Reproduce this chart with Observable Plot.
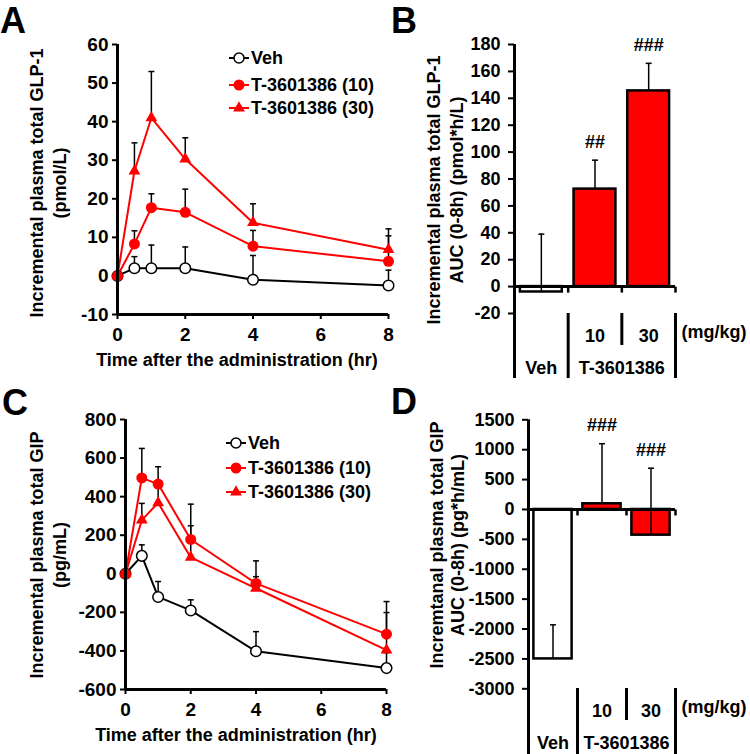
<!DOCTYPE html>
<html><head><meta charset="utf-8">
<script src="https://cdn.jsdelivr.net/npm/d3@7"></script>
<script src="https://cdn.jsdelivr.net/npm/@observablehq/plot@0.6"></script>
<style>
body{margin:0;background:#fff;}
#root{position:relative;width:750px;height:754px;overflow:hidden;background:#fff;font-family:"Liberation Sans",Arial,sans-serif;font-weight:bold;}
#root > svg{position:absolute;overflow:visible;}
</style></head><body><div id="root"></div>
<script>
// ---------- data ----------
const times = [0, 0.5, 1, 2, 4, 8];
const seriesNames = ["Veh", "T-3601386 (10)", "T-3601386 (30)"];
// Panel A: GLP-1 (pmol/L), mean and SD
const glpVeh = [0, 2, 2, 2, -1, -2.5];
const glpVehSD = [0, 3, 6, 5.5, 6.3, 4];
const glp10 = [0, 8.3, 17.7, 16.5, 7.7, 3.8];
const glp10SD = [0, 3.4, 3.6, 6, 4.1, 6.6];
const glp30 = [0, 27.2, 41, 30.3, 13.8, 6.8];
const glp30SD = [0, 7.3, 12, 5.5, 4.9, 5.4];
// Panel C: GIP (pg/mL)
const gipVeh = [0, 93, -120, -190, -402, -489];
const gipVehSD = [0, 57, 80, 55, 102, 80];
const gip10 = [0, 497, 465, 178, -50, -313];
const gip10SD = [0, 153, 90, 183, 117, 169];
const gip30 = [0, 278, 368, 85, -75, -396];
const gip30SD = [0, 87, 80, 164, 60, 195];
// Panels B / D: AUC bars
const barGroups = ["Veh", "10", "30"];
const glpAUC = [-4, 72.5, 145.5];
const glpAUCSD = [43, 21.5, 20.5];
const glpSig = ["", "##", "###"];
const gipAUC = [-2500, 95, -430];
const gipAUCSD = [570, 1005, 1120];
const gipSig = ["", "###", "###"];
// tick labels
const ticksA = [-10, 0, 10, 20, 30, 40, 50, 60];
const ticksB = [-20, 0, 20, 40, 60, 80, 100, 120, 140, 160, 180];
const ticksC = [-600, -400, -200, 0, 200, 400, 600, 800];
const ticksD = [-3000, -2500, -2000, -1500, -1000, -500, 0, 500, 1000, 1500];
const ticksTime = [0, 2, 4, 6, 8];
const tier1 = ["", "10", "30"];
const tier2 = [{x: 0, label: "Veh"}, {x: 1.5, label: "T-3601386"}];
const unitLabel = "(mg/kg)";
const xTitle = "Time after the administration (hr)";

const RED = "#ff0000";
const FONT = '"Liberation Sans", Arial, Helvetica, sans-serif';
const baseStyle = {fontSize: "18px", fontWeight: "bold", fontFamily: FONT, color: "black", background: "transparent", overflow: "visible"};
const plain = d => String(d);

const cap = {draw(ctx) { ctx.moveTo(-3, 0); ctx.lineTo(3, 0); }};
const tickDown = {draw(ctx) { ctx.moveTo(0, 0); ctx.lineTo(0, 6); }};

const rows = (m, s) => times.map((t, i) => ({t, y: m[i], sd: s[i], top: m[i] + s[i]}));

const root = document.getElementById("root");
function place(svg, left, top) {
  svg.style.left = left + "px"; svg.style.top = top + "px";
  root.appendChild(svg);
}

function timePlot(o) {
  const v = rows(o.veh, o.vehSD), a = rows(o.s10, o.s10SD), b = rows(o.s30, o.s30SD);
  const err = d => d.sd > 0;
  const errMarks = [v, a, b].flatMap(r => [
    Plot.ruleX(r.filter(err), {x: "t", y1: "y", y2: "top", stroke: "black", strokeWidth: 1.5}),
    Plot.dot(r.filter(err), {x: "t", y: "top", symbol: cap, fill: "none", stroke: "black", strokeWidth: 1.5})
  ]);
  return Plot.plot({
    width: o.w, height: o.h, marginLeft: o.ml, marginTop: o.mt, marginRight: o.mr, marginBottom: o.mb,
    x: {domain: [0, 8]}, y: {domain: o.yDomain},
    style: baseStyle,
    marks: [
      Plot.axisY({ticks: o.yTicks, tickFormat: plain, tickSize: 5, tickPadding: 4, strokeWidth: 2, fontSize: 19, fontWeight: "bold", label: null}),
      Plot.axisX({ticks: ticksTime, tickFormat: plain, tickSize: 5, tickPadding: 8, strokeWidth: 2, fontSize: 19, fontWeight: "bold", label: null}),
      ...errMarks,
      Plot.line(v, {x: "t", y: "y", stroke: "black", strokeWidth: 2}),
      Plot.line(a, {x: "t", y: "y", stroke: RED, strokeWidth: 2}),
      Plot.line(b, {x: "t", y: "y", stroke: RED, strokeWidth: 2}),
      Plot.dot(v, {x: "t", y: "y", r: 5.3, fill: "white", stroke: "black", strokeWidth: 1.5}),
      Plot.dot(a, {x: "t", y: "y", r: 5.5, fill: RED}),
      Plot.dot(b, {x: "t", y: "y", r: 4.4, symbol: "triangle", fill: RED}),
      Plot.ruleY([o.yDomain[0]], {strokeWidth: 3}),
      Plot.ruleX([0], {strokeWidth: 3})
    ]
  });
}

function barPlot(o) {
  const r = barGroups.map((g, i) => ({g, i, y: o.m[i], top: o.m[i] + o.s[i], sig: o.sig[i], fill: i === 0 ? "white" : RED}));
  return Plot.plot({
    width: o.w, height: o.h, marginLeft: o.ml, marginTop: o.mt, marginRight: o.mr, marginBottom: o.mb,
    x: {domain: [-0.5, 2.5], axis: null}, y: {domain: o.yDomain},
    color: {type: "identity"},
    style: baseStyle,
    marks: [
      Plot.axisY({ticks: o.yTicks, tickFormat: plain, tickSize: 6, tickPadding: 8, strokeWidth: 2, fontWeight: "bold", label: null}),
      Plot.rectY(r, {x1: d => d.i - 0.39, x2: d => d.i + 0.39, y1: 0, y2: "y", fill: "fill", stroke: "black", strokeWidth: 2.5}),
      Plot.ruleX(r, {x: "i", y1: "y", y2: "top", stroke: "black", strokeWidth: 1.5}),
      Plot.dot(r, {x: "i", y: "top", symbol: cap, fill: "none", stroke: "black", strokeWidth: 1.5}),
      Plot.text(r.filter(d => d.sig), {x: "i", y: "top", text: "sig", dy: -18, fontWeight: "bold"}),
      Plot.ruleY([0], {strokeWidth: 3}),
      Plot.dot([0.5, 1.5, 2.5], {x: d => d, y: () => 0, symbol: tickDown, fill: "none", stroke: "black", strokeWidth: 2.5}),
      Plot.ruleX([-0.5], {strokeWidth: 3})
    ]
  });
}

function tablePlot(o) {
  return Plot.plot({
    width: o.w, height: 66, marginLeft: o.ml, marginRight: o.mr, marginTop: 0, marginBottom: 0,
    x: {domain: [-0.5, 2.5], axis: null}, y: {domain: [0, 66], range: [0, 66], axis: null},
    style: baseStyle,
    marks: [
      Plot.ruleX([-0.5, 0.5, 2.5], {y1: 0, y2: o.longLen, strokeWidth: 3}),
      Plot.ruleX([1.5], {y1: 0, y2: 32, strokeWidth: 3}),
      Plot.text(tier1.map((t, i) => ({i, t})).filter(d => d.t), {x: "i", y: () => 23, text: "t", fontWeight: "bold"}),
      Plot.text([unitLabel], {x: () => 2.5, y: () => 19, text: d => d, textAnchor: "start", dx: 6, fontWeight: "bold"}),
      Plot.text(tier2, {x: "x", y: () => 55, text: "label", fontWeight: "bold"})
    ]
  });
}

place(timePlot({w: 400, h: 380, ml: 117, mt: 44, mr: 12, mb: 66, yDomain: [-10, 60], yTicks: ticksA,
  veh: glpVeh, vehSD: glpVehSD, s10: glp10, s10SD: glp10SD, s30: glp30, s30SD: glp30SD}), 0, 0);
place(timePlot({w: 400, h: 374, ml: 125, mt: 39, mr: 14, mb: 65, yDomain: [-600, 800], yTicks: ticksC,
  veh: gipVeh, vehSD: gipVehSD, s10: gip10, s10SD: gip10SD, s30: gip30, s30SD: gip30SD}), 0, 380);
place(barPlot({w: 350, h: 380, ml: 114, mt: 44, mr: 75, mb: 67, yDomain: [-20, 180], yTicks: ticksB,
  m: glpAUC, s: glpAUCSD, sig: glpSig}), 400, 0);
place(tablePlot({w: 350, ml: 114, mr: 75, longLen: 65}), 400, 313);
place(barPlot({w: 350, h: 374, ml: 128, mt: 39.3, mr: 75, mb: 65.7, yDomain: [-3000, 1500], yTicks: ticksD,
  m: gipAUC, s: gipAUCSD, sig: gipSig}), 400, 380);
place(tablePlot({w: 350, ml: 128, mr: 75, longLen: 66}), 400, 688);

// ---------- overlay: panel letters, axis titles, legends ----------
const ov = d3.create("svg").attr("width", 750).attr("height", 754)
  .style("left", "0px").style("top", "0px").style("pointer-events", "none")
  .attr("font-family", FONT).attr("font-weight", "bold").attr("font-size", 18);
const letters = [{t: "A", x: 0, y: 33}, {t: "B", x: 391, y: 33}, {t: "C", x: 2, y: 415}, {t: "D", x: 391, y: 414}];
ov.selectAll("text.l").data(letters).join("text").attr("x", d => d.x).attr("y", d => d.y)
  .attr("font-size", 36).text(d => d.t);

const ylabels = [
  {lines: ["Incremental plasma total GLP-1", "(pmol/L)"], xs: [37, 60], cy: 183},
  {lines: ["Incremental plasma total GLP-1", "AUC (0-8h) (pmol*h/L)"], xs: [434, 457], cy: 190},
  {lines: ["Incremental plasma total GIP", "(pg/mL)"], xs: [37, 60], cy: 555},
  {lines: ["Incremtanal plasma total GIP", "AUC (0-8h) (pg*h/mL)"], xs: [437, 458], cy: 545}
];
for (const yl of ylabels) yl.lines.forEach((s, i) => {
  ov.append("text").attr("transform", `translate(${yl.xs[i]},${yl.cy}) rotate(-90)`)
    .attr("text-anchor", "middle").attr("dominant-baseline", "central").text(s);
});
[{x: 237, y: 360}, {x: 236, y: 735}].forEach(p => ov.append("text").attr("x", p.x).attr("y", p.y)
  .attr("text-anchor", "middle").attr("dominant-baseline", "central").text(xTitle));

function legend(x0, ys) {
  seriesNames.forEach((name, i) => {
    const y = ys[i], col = i === 0 ? "black" : RED;
    ov.append("line").attr("x1", x0).attr("x2", x0 + 20).attr("y1", y).attr("y2", y).attr("stroke", col).attr("stroke-width", 2);
    const cx = x0 + 10;
    if (i === 0) ov.append("circle").attr("cx", cx).attr("cy", y).attr("r", 5).attr("fill", "white").attr("stroke", "black").attr("stroke-width", 1.5);
    else if (i === 1) ov.append("circle").attr("cx", cx).attr("cy", y).attr("r", 5.5).attr("fill", RED);
    else ov.append("path").attr("d", d3.symbol(d3.symbolTriangle, Math.PI * 4.4 * 4.4)()).attr("transform", `translate(${cx},${y})`).attr("fill", RED);
    ov.append("text").attr("x", x0 + 22).attr("y", y).attr("dominant-baseline", "central").text(name);
  });
}
legend(229, [58, 85, 108]);
legend(226, [443, 468, 492]);
root.appendChild(ov.node());
</script></body></html>
